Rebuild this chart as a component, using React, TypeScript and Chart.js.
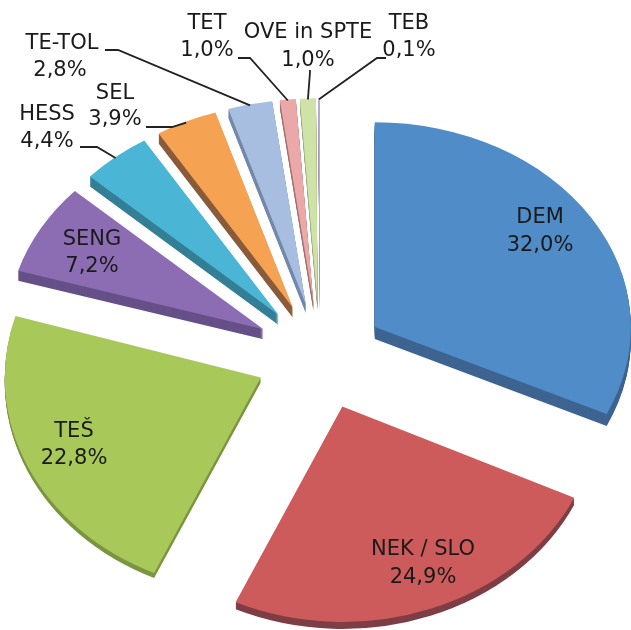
import React, { useEffect, useRef } from 'react';
import { Chart, registerables } from 'chart.js';

Chart.register(...registerables);

// ---- data ----
const categories: string[] = ['DEM', 'NEK / SLO', 'TEŠ', 'SENG', 'HESS', 'SEL', 'TE-TOL', 'TET', 'OVE in SPTE', 'TEB'];
const shares: number[] = [32.0, 24.9, 22.8, 7.2, 4.4, 3.9, 2.8, 1.0, 1.0, 0.1];
const shareLabels: string[] = ['32,0%', '24,9%', '22,8%', '7,2%', '4,4%', '3,9%', '2,8%', '1,0%', '1,0%', '0,1%'];

// ---- styles ----
const topColors: string[] = ['#4F8CC8', '#CD5B5B', '#A9C85A', '#8C6DB4', '#4BB5D5', '#F6A253', '#A7BEE0', '#EAA8A8', '#CFE3A8', '#C4B8DC'];
const sideColors: string[] = ['#3E6491', '#7E3E46', '#7C9542', '#665088', '#347F95', '#8A5B3A', '#7488AA', '#A07070', '#98AA78', '#8E84A6'];
const sideDepths: number[] = [12, 7, 5, 10, 10, 10, 9, 8, 8, 8];
// vertical squash of each slice (nearer slices a little less squashed)
const tilts: number[] = [0.8, 0.842, 0.84, 0.8, 0.8, 0.8, 0.8, 0.8, 0.8, 0.8];

const EXPLODE = 65;
const FONT = '21px "DejaVu Sans", sans-serif';

// label layout: [line1 centre x, line1 y, line2 centre x, line2 y]
const labelPos: number[][] = [
  [540, 218, 540, 246],
  [423, 550, 423, 578],
  [74, 432, 74, 459],
  [92, 240, 92, 267],
  [47, 115, 47, 142],
  [115, 94, 115, 120],
  [62, 44, 60, 71],
  [207, 24, 207, 51],
  [308, 33, 308, 61],
  [409, 24, 409, 51],
];
// leader lines: start point, elbow (null for inside labels)
const leaders: (number[] | null)[] = [
  null, null, null, null,
  [80, 147, 97, 147],
  [146, 127, 172, 127],
  [105, 50, 118, 50],
  [238, 58, 250, 58],
  [310, 70, 310, 72],
  [386, 58, 377, 58],
];

const pie3d = {
  id: 'pie3d',
  beforeDatasetsDraw(chart: any) {
    const ctx: CanvasRenderingContext2D = chart.ctx;
    const arcs: any[] = chart.getDatasetMeta(0).data;
    const order = arcs.map((_, i) => i).sort((a, b) => {
      const ma = (arcs[a].startAngle + arcs[a].endAngle) / 2;
      const mb = (arcs[b].startAngle + arcs[b].endAngle) / 2;
      return Math.sin(ma) - Math.sin(mb);
    });
    for (const i of order) {
      const arc = arcs[i];
      const cy = arc.y;
      const k = tilts[i];
      const mid = (arc.startAngle + arc.endAngle) / 2;
      const ex = Math.cos(mid) * EXPLODE, ey = Math.sin(mid) * EXPLODE;
      const side = Object.create(arc);
      side.options = { ...arc.options, backgroundColor: sideColors[i], borderWidth: 0 };
      for (let d = sideDepths[i]; d >= 0; d--) {
        const el = d === 0 ? arc : side;
        ctx.save();
        ctx.translate(0, d);
        ctx.translate(0, cy);
        ctx.scale(1, k);
        ctx.translate(0, -cy);
        ctx.translate(ex, ey);
        el.draw(ctx);
        ctx.restore();
      }
    }
    return false;
  },
  afterDraw(chart: any) {
    const ctx: CanvasRenderingContext2D = chart.ctx;
    const arcs: any[] = chart.getDatasetMeta(0).data;
    ctx.save();
    ctx.font = FONT;
    ctx.fillStyle = '#1a1a1a';
    ctx.textAlign = 'center';
    ctx.textBaseline = 'middle';
    arcs.forEach((arc, i) => {
      const p = labelPos[i];
      ctx.fillText(categories[i], p[0], p[1]);
      ctx.fillText(shareLabels[i], p[2], p[3]);
      const l = leaders[i];
      if (l) {
        const mid = (arc.startAngle + arc.endAngle) / 2;
        const r = arc.outerRadius + EXPLODE;
        const ax = arc.x + Math.cos(mid) * r;
        const ay = arc.y + Math.sin(mid) * r * tilts[i] + 1;
        ctx.beginPath();
        ctx.moveTo(l[0], l[1]);
        ctx.lineTo(l[2], l[3]);
        ctx.lineTo(ax, ay);
        ctx.strokeStyle = '#222';
        ctx.lineWidth = 1.8;
        ctx.stroke();
      }
    });
    ctx.restore();
  },
};

export default function App() {
  const ref = useRef<HTMLCanvasElement>(null);
  useEffect(() => {
    if (!ref.current) return;
    const chart = new Chart(ref.current, {
      type: 'pie',
      data: {
        labels: categories,
        datasets: [
          {
            data: shares,
            backgroundColor: topColors,
            borderWidth: 0,
            radius: 256,
            clip: false,
          } as any,
        ],
      },
      options: {
        animation: false,
        responsive: true,
        maintainAspectRatio: false,
        layout: { padding: { left: 9, right: 0, top: 80, bottom: 0 } },
        plugins: {
          legend: { display: false },
          tooltip: { enabled: false },
        },
      },
      plugins: [pie3d],
    });
    return () => chart.destroy();
  }, []);
  return (
    <div style={{ position: 'fixed', left: 0, top: 0, width: 631, height: 630, background: '#fff' }}>
      <canvas ref={ref} />
    </div>
  );
}
